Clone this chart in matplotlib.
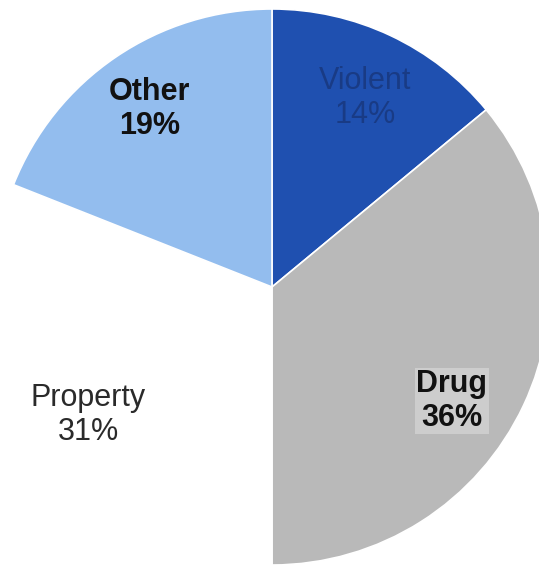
import matplotlib
matplotlib.use("Agg")
import matplotlib.pyplot as plt

categories = ["Violent", "Drug", "Property", "Other"]
shares = [14, 36, 31, 19]
colors = ["#1f50b0", "#b9b9b9", "#ffffff", "#93bdee"]

plt.rcParams['font.family'] = ['Liberation Sans', 'DejaVu Sans']

fig = plt.figure(figsize=(5.39, 5.66), dpi=100)
ax = fig.add_axes([-6 / 539, 1 / 566, 556 / 539, 556 / 566])

wedges, _ = ax.pie(shares, colors=colors, startangle=90, counterclock=False,
                   radius=1.0, wedgeprops=dict(edgecolor='white', linewidth=1.2))
ax.set_xlim(-1, 1)
ax.set_ylim(-1, 1)
ax.set_aspect('equal')
ax.axis('off')

# label spots (data coords) and looks
label_pos = {"Violent": (0.335, 0.68), "Drug": (0.647, -0.41),
             "Property": (-0.66, -0.46), "Other": (-0.44, 0.64)}
label_col = {"Violent": "#193b85", "Drug": "#111111",
             "Property": "#2a2a2a", "Other": "#111111"}
label_wt = {"Violent": "normal", "Drug": "bold",
            "Property": "normal", "Other": "bold"}

for name, val in zip(categories, shares):
    x, y = label_pos[name]
    t = ax.text(x, y, f"{name}\n{val}%", ha='center', va='center',
                fontsize=22, color=label_col[name], fontweight=label_wt[name],
                linespacing=1.15)
    if name == "Drug":
        t.set_bbox(dict(facecolor='#cdcdcd', edgecolor='none', pad=1))

fig.savefig("out.png", dpi=100, facecolor='white')
